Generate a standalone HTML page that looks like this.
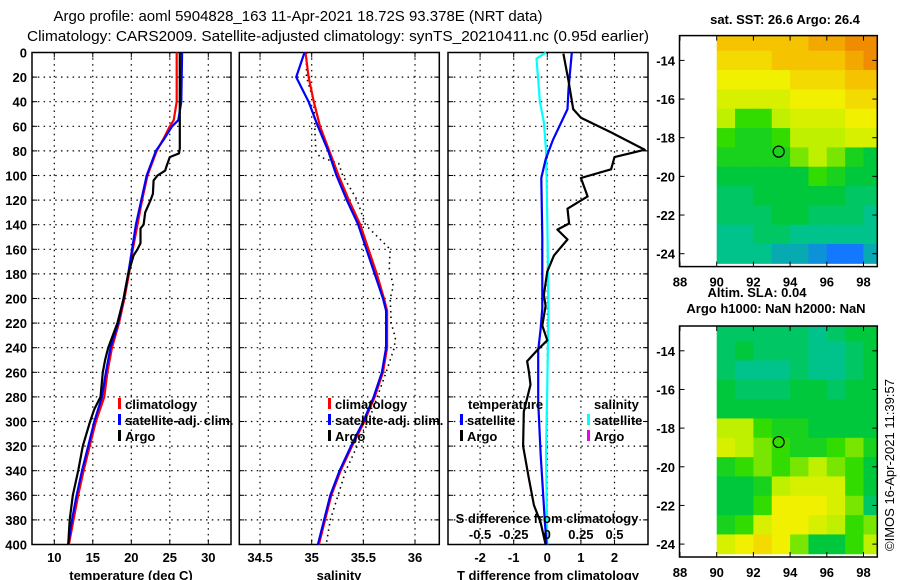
<!DOCTYPE html>
<html><head><meta charset="utf-8"><style>
html,body{margin:0;padding:0;background:#fff;}
svg{display:block;font-family:"Liberation Sans",sans-serif;}
.t{font-weight:bold;font-size:13px;}
</style></head><body>
<svg id="chart" width="900" height="580" viewBox="0 0 900 580">
<text x="298" y="21" text-anchor="middle" font-size="15" textLength="489" lengthAdjust="spacingAndGlyphs">Argo profile: aoml 5904828_163 11-Apr-2021 18.72S 93.378E (NRT data)</text>
<text x="338" y="41" text-anchor="middle" font-size="15" textLength="622" lengthAdjust="spacingAndGlyphs">Climatology: CARS2009. Satellite-adjusted climatology: synTS_20210411.nc (0.95d earlier)</text>
<g id="root"></g>
<text transform="translate(894,465) rotate(-90)" text-anchor="middle" font-size="13">©IMOS 16-Apr-2021 11:39:57</text>
</svg>
<script>
// ---------- data ----------
const depthTicks=[0,20,40,60,80,100,120,140,160,180,200,220,240,260,280,300,320,340,360,380,400];
const tTicks=[10,15,20,25,30];
const sTicks=[34.5,35,35.5,36];
const dTTicks=[-2,-1,0,1,2];
const dSTicks=[-0.5,-0.25,0,0.25,0.5];
const dSTickLabels=["-0.5","-0.25","0","0.25","0.5"];
const lonTicks=[88,90,92,94,96,98];
const latTicks=[-14,-16,-18,-20,-22,-24];

const climTdepth=[0,40,55,60,70,80,100,120,140,160,180,200,220,240,260,280,300,320,340,360,380,400];
const climT=[25.9,25.9,25.5,25.0,24.2,23.3,22.1,21.4,20.8,20.2,19.7,19.1,18.4,17.5,16.9,16.5,15.4,14.6,13.8,13.1,12.5,11.9];
const satT=[26.6,26.5,26.1,25.3,24.3,23.2,22.0,21.3,20.6,20.1,19.6,19.0,18.3,17.3,16.7,16.2,15.2,14.4,13.6,12.9,12.3,11.8];
const argoTdepth=[0,78,82,85,92,96,100,104,115,120,130,140,143,155,160,165,180,200,220,240,250,260,280,290,300,320,340,360,380,400];
const argoT=[26.3,26.3,26.2,25.0,24.6,24.4,23.4,22.9,22.8,22.5,21.8,21.6,21.2,21.2,20.8,20.3,19.6,19.0,18.2,17.0,16.6,16.3,16.0,15.2,14.65,13.7,13.1,12.4,12.0,11.8];

const climSdepth=[0,20,40,60,80,100,120,140,160,180,200,210,240,260,280,300,320,340,360,380,400];
const climS=[34.94,34.97,35.02,35.08,35.17,35.26,35.36,35.47,35.55,35.63,35.70,35.73,35.73,35.69,35.61,35.51,35.39,35.28,35.19,35.13,35.07];
const satS=[34.93,34.85,34.97,35.06,35.16,35.24,35.34,35.45,35.53,35.61,35.69,35.72,35.72,35.68,35.60,35.50,35.38,35.27,35.18,35.12,35.06];
const argoSdepth=[0,20,40,60,80,85,90,100,120,140,155,160,175,190,200,220,232,240,260,300,340,380,400];
const argoS=[34.95,34.95,35.02,35.03,35.04,35.08,35.26,35.30,35.44,35.52,35.70,35.76,35.75,35.79,35.76,35.77,35.81,35.80,35.72,35.55,35.33,35.18,35.14];

const dTsatDepth=[0,30,46,71,87,102,150,208,225,242,284,326,382,400];
const dTsat=[0.73,0.63,0.6,0.17,-0.05,-0.18,-0.15,-0.15,-0.2,-0.27,-0.27,-0.2,-0.07,-0.02];
const dSsatDepth=[0,5,40,57,79,102,158,214,270,326,400];
const dSsat=[-0.01,-0.08,-0.055,-0.025,-0.01,-0.005,0.003,0.008,0.0,-0.01,0.0];
const dTargoDepth=[1,23,46,53,65,79,85,95,102,117,127,139,144,152,165,178,197,206,222,234,242,251,259,270,292,320,346,368,382,400];
const dTargo=[0.48,0.63,0.77,1.0,1.9,2.9,2.0,1.9,1.0,1.2,0.6,0.65,0.3,0.6,0.2,0.0,-0.1,-0.05,-0.15,0.0,-0.3,-0.6,-0.55,-0.5,-0.7,-0.72,-0.55,-0.4,-0.2,-0.05];

// map grids: rows lat -13..-24, cols lon 90.5..98.5 (colour index 0-10)
const sstGrid=[
[8,8,8,8,8,8.5,8.5,9,9],
[7.5,7.5,7.5,8,8,8,8,8.5,9],
[7,7,7,7,7.5,7.5,7.5,8,8],
[6.5,6.5,6.5,6.5,7,7,7,7.5,7.5],
[6,5,5,6,6.5,6.5,6.5,7,7],
[5,4.5,4.5,5,6,6,6,6.5,6.5],
[4.5,4.5,4.5,4.5,5.5,6,5.5,4.5,4],
[4,4,4,4,4,5,4.5,4,4],
[3.5,3.5,4,4,4,4,4,3.5,3.5],
[3.5,3.5,3.5,4,4,3.5,3.5,3.5,3],
[3,3,3.5,3.5,3,3,3,3,3],
[3,3,3,2.5,2.5,2,1.5,1.5,2.5]];
const slaGrid=[
[3.5,3.5,3.5,3.5,3.5,3,3.5,4,4],
[3.5,4,3.5,3.5,3.5,3,3,3.5,4],
[3.5,3,3,3,3.5,3,3,3.5,4],
[4,3.5,3.5,3.5,4,4,3.5,4,4],
[4,4,4,4,4,4,4,4,4],
[6,6,5,4.5,4.5,4,4,4,4],
[6.5,6,5.5,5,4.5,4.5,5,5.5,4.5],
[4.5,5,5.5,5,5.5,6,5.5,5,4],
[4,4,4.5,6,6.5,6.5,6.5,5,4],
[4,4,5,7,7,7,6.5,5.5,3.5],
[4.5,5,6.5,7,7,6.5,6,5,5.5],
[6.5,7,7.5,7,5.5,4,4,5,6]];
const argoLon=93.378, argoLat=-18.72;

// ---------- helpers ----------
const NS="http://www.w3.org/2000/svg";
const root=document.getElementById('root');
function mk(tag,attrs,parent){const e=document.createElementNS(NS,tag);for(const k in attrs)e.setAttribute(k,attrs[k]);(parent||root).appendChild(e);return e;}
const Y0=52.5,YS=1.23;
const yD=d=>Y0+d*YS;
const xT=t=>54.3+(t-10)*7.7;
const xS=s=>311.7+(s-35)*103.3;
const xDT=d=>547.3+d*33.6;
const xDS=d=>547.3+d*134.4;
const YB=yD(400);

function panel(x0,x1,xticks,xf,labels,name){
  const g=mk('g',{});
  
  
  depthTicks.forEach(d=>{
    const y=yD(d);
    if(d>0&&d<400){const l=mk('line',{x1:x0,x2:x1,y1:y,y2:y,stroke:'#000','stroke-width':1.2,'stroke-dasharray':'1.5,4.3'},g);
    }
    mk('line',{x1:x0,x2:x0+5,y1:y,y2:y,stroke:'#000'},g);
    mk('line',{x1:x1-5,x2:x1,y1:y,y2:y,stroke:'#000'},g);
  });
  xticks.forEach((v,i)=>{
    const x=xf(v);
    const l=mk('line',{x1:x,x2:x,y1:Y0,y2:YB,stroke:'#000','stroke-width':1.2,'stroke-dasharray':'1.5,4.3'},g);
    
    mk('line',{x1:x,x2:x,y1:Y0,y2:Y0+5,stroke:'#000'},g);
    mk('line',{x1:x,x2:x,y1:YB-5,y2:YB,stroke:'#000'},g);
    const t=mk('text',{x:x,y:562,'text-anchor':'middle',class:'t'},g);t.textContent=labels?labels[i]:String(v);
    
  });
  const r=mk('rect',{x:x0,y:Y0,width:x1-x0,height:YB-Y0,fill:'none',stroke:'#000','stroke-width':1.5},g);
  
}
function line(depths,vals,xf,color,name,extra){
  const pts=depths.map((d,i)=>xf(vals[i]).toFixed(1)+','+yD(d).toFixed(1)).join(' ');
  const a={points:pts,fill:'none',stroke:color,'stroke-width':2.2,'stroke-linejoin':'round'};
  if(extra)Object.assign(a,extra);
  const p=mk('polyline',a);
  
  
}
function txt(x,y,s,name,anchor,size){
  const t=mk('text',{x:x,y:y,'text-anchor':anchor||'start',class:'t','font-size':size||13});
  t.textContent=s;
  
  
  return t;
}
function legendBar(x,y,c){
  const r=mk('rect',{x:x-1,y:y-11,width:3,height:11,fill:c});
  
  
}

// y tick labels
depthTicks.forEach(d=>{
  txt(27,yD(d)+5,String(d),'y-tick-label','end');
});

// panel 1
panel(32,231,tTicks,xT,null,'temperature-panel');
line(climTdepth,climT,xT,'#f00','climatology-temperature-line');
line(climTdepth,satT,xT,'#00f','satellite-temperature-line');
line(argoTdepth,argoT,xT,'#000','argo-temperature-line');
legendBar(119,409,'#f00');txt(125,409,'climatology','legend-climatology');
legendBar(119,425,'#00f');txt(125,425,'satellite-adj. clim.','legend-satellite');
legendBar(119,441,'#000');txt(125,441,'Argo','legend-argo');
txt(131,580,'temperature (deg C)','x-axis-title-temperature','middle');

// panel 2
panel(239.3,439.3,sTicks,xS,null,'salinity-panel');
line(argoSdepth,argoS,xS,'#000','argo-salinity-line',{'stroke-dasharray':'1.5,4','stroke-width':1.6,'stroke-linejoin':'miter'});
line(climSdepth,climS,xS,'#f00','climatology-salinity-line');
line(climSdepth,satS,xS,'#00f','satellite-salinity-line');
legendBar(329,409,'#f00');txt(335,409,'climatology','legend-climatology');
legendBar(329,425,'#00f');txt(335,425,'satellite-adj. clim.','legend-satellite');
legendBar(329,441,'#000');txt(335,441,'Argo','legend-argo');
txt(339,580,'salinity','x-axis-title-salinity','middle');

// panel 3
panel(448,648,dTTicks,xDT,null,'difference-panel');
line(dSsatDepth,dSsat,xDS,'#0ff','satellite-salinity-diff-line');
line(dTsatDepth,dTsat,xDT,'#00f','satellite-temperature-diff-line');
line(dTargoDepth,dTargo,xDT,'#000','argo-temperature-diff-line');
txt(468,409,'temperature','legend-temperature-heading');
legendBar(461,425,'#00f');txt(467,425,'satellite','legend-t-satellite');
legendBar(461,441,'#000');txt(467,441,'Argo','legend-t-argo');
txt(594,409,'salinity','legend-salinity-heading');
legendBar(588,425,'#0ff');txt(594,425,'satellite','legend-s-satellite');
legendBar(588,441,'#e0e');txt(594,441,'Argo','legend-s-argo');
txt(547,523,'S difference from climatology','s-axis-title','middle');
dSTicks.forEach((v,i)=>txt(xDS(v),539,dSTickLabels[i],'s-tick-label','middle'));
txt(548,580,'T difference from climatology','x-axis-title-difference','middle');

// maps
const MX0=679.5,MX1=877.3;
const lonX=l=>680+(l-88)*18.35;
function colour(v){
  const st=[[1.5,[20,120,255]],[3,[0,195,140]],[4,[0,200,60]],[5,[50,220,0]],[6,[190,240,0]],[7,[240,240,0]],[8,[245,195,0]],[9,[240,140,0]]];
  if(v<=st[0][0])return 'rgb('+st[0][1]+')';
  for(let i=1;i<st.length;i++){if(v<=st[i][0]){const f=(v-st[i-1][0])/(st[i][0]-st[i-1][0]);const a=st[i-1][1],b=st[i][1];return 'rgb('+a.map((c,k)=>Math.round(c+(b[k]-c)*f)).join(',')+')';}}
  return 'rgb('+st[st.length-1][1]+')';
}
function map(top,grid,name){
  const bot=top+231;
  const latY=l=>top+24.8+(-14-l)*19.33;
  const g=mk('g',{});
  
  
  const cid='clip'+Math.round(top);
  const cp=mk('clipPath',{id:cid},g);
  mk('rect',{x:715,y:top,width:MX1-715,height:bot-top-1.5},cp);
  const cg=mk('g',{'clip-path':'url(#'+cid+')'},g);
  grid.forEach((row,r)=>row.forEach((v,c)=>{
    const lat=-13-r, lon=90.5+c;
    const y1=latY(lat+0.5), y2=latY(lat-0.5);
    const x1=lonX(lon-0.5), x2=lonX(lon+0.5);
    const cell=mk('rect',{x:x1,y:y1,width:x2-x1+0.5,height:y2-y1+0.5,fill:colour(v)},cg);
    
    
  }));
  const fr=mk('rect',{x:MX0,y:top,width:MX1-MX0,height:bot-top,fill:'none',stroke:'#000','stroke-width':1.5},g);
  
  lonTicks.forEach(l=>{
    const x=lonX(l);
    mk('line',{x1:x,x2:x,y1:top,y2:top+5,stroke:'#000'},g);
    mk('line',{x1:x,x2:x,y1:bot-5,y2:bot,stroke:'#000'},g);
    const t=mk('text',{x:x,y:bot+20,'text-anchor':'middle',class:'t'},g);t.textContent=String(l);
    
  });
  latTicks.forEach(l=>{
    const y=latY(l);
    mk('line',{x1:MX0,x2:MX0+5,y1:y,y2:y,stroke:'#000'},g);
    mk('line',{x1:MX1-5,x2:MX1,y1:y,y2:y,stroke:'#000'},g);
    const t=mk('text',{x:675,y:y+5,'text-anchor':'end',class:'t'},g);t.textContent=String(l);
    
  });
  const c=mk('circle',{cx:lonX(argoLon),cy:latY(argoLat),r:5.5,fill:'none',stroke:'#000','stroke-width':1.2},g);
  
}
map(35.6,sstGrid,'sst-map');
map(326,slaGrid,'sla-map');
txt(785,24,'sat. SST: 26.6 Argo: 26.4','sst-map-title','middle');
txt(757,297,'Altim. SLA: 0.04','sla-value-label','middle');
txt(776,313,'Argo h1000: NaN h2000: NaN','sla-map-title','middle');
</script>
</body></html>
